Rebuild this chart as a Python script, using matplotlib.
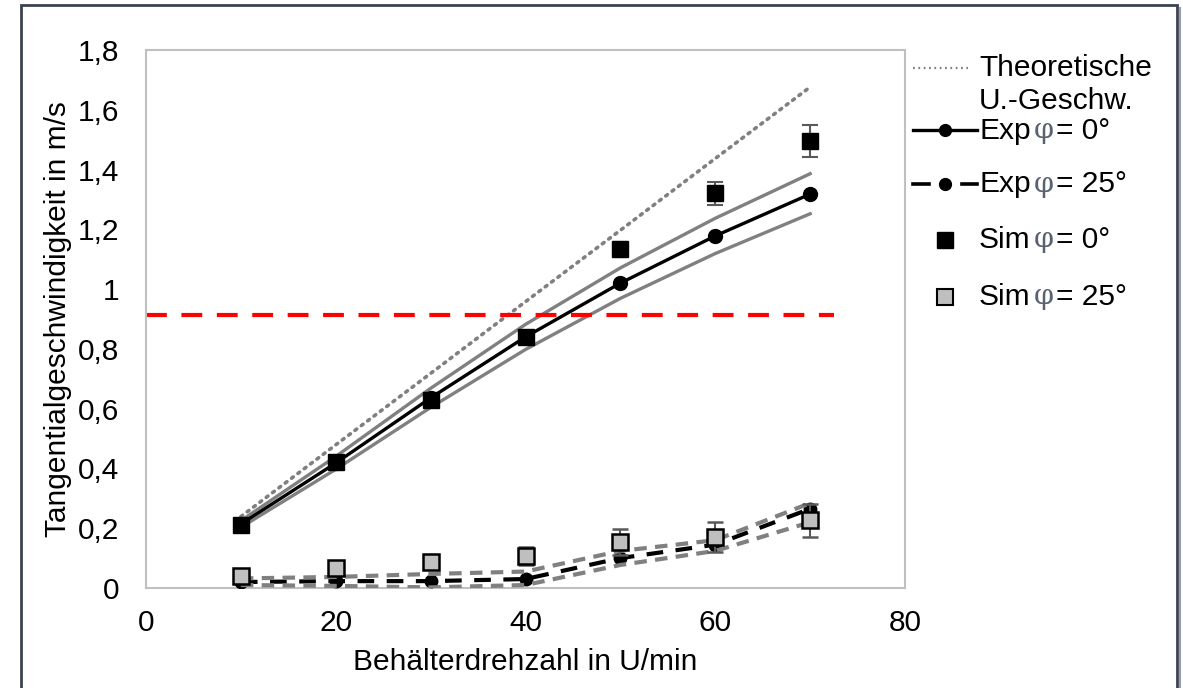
import matplotlib
matplotlib.use("Agg")
import matplotlib.pyplot as plt
from matplotlib.lines import Line2D
from matplotlib.patches import Rectangle

plt.rcParams['font.family'] = ['Liberation Sans', 'DejaVu Sans']

# ---------------- data ----------------
rpm = [10, 20, 30, 40, 50, 60, 70]
theo = [0.239, 0.479, 0.718, 0.958, 1.197, 1.437, 1.676]
exp0 = [0.214, 0.418, 0.636, 0.840, 1.020, 1.178, 1.318]
exp0_hi = [0.225, 0.440, 0.668, 0.882, 1.071, 1.237, 1.386]
exp0_lo = [0.203, 0.397, 0.604, 0.798, 0.969, 1.119, 1.252]
exp25 = [0.020, 0.023, 0.023, 0.030, 0.100, 0.145, 0.265]
exp25_hi = [0.032, 0.037, 0.047, 0.055, 0.124, 0.160, 0.284]
exp25_lo = [0.010, 0.007, 0.002, 0.010, 0.077, 0.124, 0.220]
sim0 = [0.211, 0.420, 0.630, 0.840, 1.134, 1.320, 1.495]
sim0_err = [0.01, 0.01, 0.01, 0.01, 0.025, 0.040, 0.053]
sim25 = [0.040, 0.068, 0.086, 0.108, 0.154, 0.171, 0.227]
sim25_err = [0.005, 0.005, 0.005, 0.030, 0.045, 0.050, 0.055]
limit_x = [0, 72.5]
limit_y = [0.913, 0.913]

xticks = [0, 20, 40, 60, 80]
yticks = [0, 0.2, 0.4, 0.6, 0.8, 1.0, 1.2, 1.4, 1.6, 1.8]
ytick_labels = ['0', '0,2', '0,4', '0,6', '0,8', '1', '1,2', '1,4', '1,6', '1,8']
xlabel = 'Behälterdrehzahl in U/min'
ylabel = 'Tangentialgeschwindigkeit in m/s'

W, H = 1183, 688
fig = plt.figure(figsize=(W / 100, H / 100), dpi=100)
ax = fig.add_axes([146 / W, 1 - 588 / H, (905 - 146) / W, (588 - 50) / H])

GRAY = '#808080'
FS = 21.5

# theoretical
ax.plot(rpm, theo, color=GRAY, lw=2.6, linestyle=(0, (0.6, 1.6)),
        dash_capstyle='round', zorder=2)
# exp 0 bands
ax.plot(rpm, exp0_hi, color=GRAY, lw=2.4, zorder=2)
ax.plot(rpm, exp0_lo, color=GRAY, lw=2.4, zorder=2)
ax.plot(rpm, exp0, color='black', lw=2.4, marker='o', ms=10, zorder=3)
# exp 25
ax.plot(rpm, exp25, color='black', lw=3, linestyle=(0, (4, 3)),
        marker='o', ms=9, zorder=3)
ax.plot(rpm, exp25_hi, color=GRAY, lw=3, linestyle=(0, (3, 2)), zorder=4)
ax.plot(rpm, exp25_lo, color=GRAY, lw=3, linestyle=(0, (3, 2)), zorder=4)
# threshold
ax.plot(limit_x, limit_y, color='#ff0000', lw=3, linestyle=(0, (5, 3.5)), zorder=2)
# simulation
ax.errorbar(rpm, sim0, yerr=sim0_err, fmt='s', color='black', ms=12,
            mec='black', ecolor='#595959', elinewidth=1.5, capsize=6,
            capthick=1.5, zorder=5)
ax.errorbar(rpm, sim25, yerr=sim25_err, fmt='s', color='#bfbfbf', ms=12,
            mec='black', mew=1.8, ecolor='#595959', elinewidth=1.5,
            capsize=6, capthick=1.5, zorder=5)

ax.set_xlim(0, 80)
ax.set_ylim(0, 1.8)
ax.set_xticks(xticks)
ax.set_xticklabels([str(v) for v in xticks])
ax.set_yticks(yticks)
ax.set_yticklabels(ytick_labels)
ax.tick_params(axis='both', length=0, labelsize=FS)
ax.tick_params(axis='y', pad=19)
ax.tick_params(axis='x', pad=15)
for sp in ax.spines.values():
    sp.set_color('#c0c0c0')
    sp.set_linewidth(1.5)

ax.set_xlabel(xlabel, fontsize=FS)
ax.set_ylabel(ylabel, fontsize=FS)
ax.xaxis.set_label_coords(0.5, -0.112)
ax.yaxis.set_label_coords(-0.098, 0.5)

# ---------------- legend (manual, Excel style) ----------------
def fx(px):
    return px / W

def fy(py):
    return 1 - py / H

hx0, hx1, hxm = 913, 977, 945
tx = 979
fig.add_artist(Line2D([fx(hx0), fx(968)], [fy(68), fy(68)], color=GRAY, lw=1.6,
                      linestyle=(0, (0.8, 1.6)), transform=fig.transFigure))
fig.text(fx(tx), fy(68), 'Theoretische', fontsize=FS, va='center', ha='left')
fig.text(fx(tx), fy(101), 'U.-Geschw.', fontsize=FS, va='center', ha='left')

fig.add_artist(Line2D([fx(hx0), fx(hx1)], [fy(130), fy(130)], color='black', lw=2.4,
                      transform=fig.transFigure))
fig.add_artist(Line2D([fx(hxm)], [fy(130)], color='black', marker='o', ms=8.5,
                      linestyle='none', transform=fig.transFigure))
fig.add_artist(Line2D([fx(hx0), fx(929)], [fy(184)] * 2, color='black', lw=2.6,
                      transform=fig.transFigure))
fig.add_artist(Line2D([fx(962), fx(hx1)], [fy(184)] * 2, color='black', lw=2.6,
                      transform=fig.transFigure))
fig.add_artist(Line2D([fx(hxm)], [fy(184)], color='black', marker='o', ms=8.5,
                      linestyle='none', transform=fig.transFigure))
fig.add_artist(Line2D([fx(hxm)], [fy(240)], color='black', marker='s', ms=12,
                      linestyle='none', transform=fig.transFigure))
fig.add_artist(Line2D([fx(hxm)], [fy(297)], color='#bfbfbf', marker='s', ms=12,
                      mec='black', mew=1.5, linestyle='none', transform=fig.transFigure))

renderer = fig.canvas.get_renderer()
entries = [('Exp', '= 0°', 131), ('Exp', '= 25°', 184),
           ('Sim', '= 0°', 240), ('Sim', '= 25°', 297)]
for a, b, py in entries:
    t1 = fig.text(fx(tx), fy(py), a, fontsize=FS, va='center', ha='left')
    bb = t1.get_window_extent(renderer)
    t2 = fig.text(fx(bb.x1 + 3), fy(py), 'φ', fontsize=FS - 1, va='center', ha='left',
                  family='DejaVu Serif', color='#5a6270')
    bb2 = t2.get_window_extent(renderer)
    fig.text(fx(bb2.x1 + 2), fy(py), b, fontsize=FS, va='center', ha='left')

# ---------------- outer frame ----------------
fig.add_artist(Rectangle((fx(21), -0.05), fx(1177 - 21), fy(5) + 0.05, fill=False,
                         edgecolor='#3c4250', lw=2.0, transform=fig.transFigure,
                         clip_on=False))
fig.add_artist(Line2D([fx(1179.5), fx(1179.5)], [-0.05, fy(8)], color='#9aa0a8', lw=1.5,
                      transform=fig.transFigure))

fig.savefig('out.png', dpi=100)
